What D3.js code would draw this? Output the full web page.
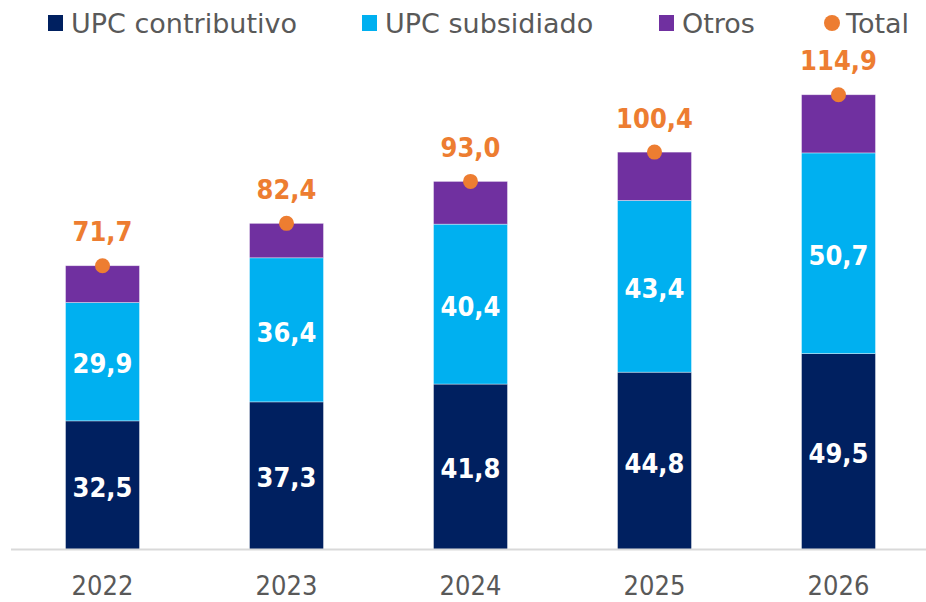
<!DOCTYPE html>
<html>
<head>
<meta charset="utf-8">
<script src="https://cdn.jsdelivr.net/npm/d3@7"></script>
<style>
  body { margin: 0; background: #fff; }
  svg { display: block; font-family: "DejaVu Sans", sans-serif; }
</style>
</head>
<body>
<svg class="chart"></svg>
<script>
const width = 926,
  height = 602;
const years = ['2022', '2023', '2024', '2025', '2026'];
const contributivo = [32.5, 37.3, 41.8, 44.8, 49.5];
const subsidiado = [29.9, 36.4, 40.4, 43.4, 50.7];
const otros = [9.3, 8.7, 10.8, 12.2, 14.7];
const total = [71.7, 82.4, 93.0, 100.4, 114.9];
const seriesNames = ['UPC contributivo', 'UPC subsidiado', 'Otros'];
const colors = ['#002060', '#00B0F0', '#7030A0'];
const totalColor = '#ED7D31';
const textColor = '#595959';
const condensed = '"DejaVu Sans Condensed", "DejaVu Sans", sans-serif';

const fmt = v => v.toFixed(1).replace('.', ',');

let chart = d3.select(".chart")
  .attr("width", width)
  .attr("height", height);

let x = d3.scaleBand()
  .domain(years)
  .range([10.5, 930.5])
  .paddingInner(0.598)
  .paddingOuter(0.299);

let y = d3.scaleLinear()
  .domain([0, 120])
  .range([549.5, 549.5 - 120 * 3.958]);

let rows = years.map((yr, i) => ({
  year: yr,
  'UPC contributivo': contributivo[i],
  'UPC subsidiado': subsidiado[i],
  'Otros': otros[i],
  total: total[i]
}));

let stack = d3.stack().keys(seriesNames)(rows);

// bars
let layer = chart.append("g").selectAll("g")
  .data(stack)
  .enter().append("g")
  .attr("fill", (d, i) => colors[i]);

layer.selectAll("rect")
  .data(d => d)
  .enter().append("rect")
  .attr("x", d => x(d.data.year))
  .attr("y", d => y(d[1]))
  .attr("width", x.bandwidth())
  .attr("height", d => y(d[0]) - y(d[1]))
  .attr("stroke", "#ffffff")
  .attr("stroke-opacity", 0.5)
  .attr("stroke-width", 0.75);

// labels inside first two series
stack.slice(0, 2).forEach(s => {
  chart.append("g").selectAll("text")
    .data(s)
    .enter().append("text")
    .attr("x", d => x(d.data.year) + x.bandwidth() / 2)
    .attr("y", d => (y(d[0]) + y(d[1])) / 2 + 2)
    .attr("dy", "0.36em")
    .attr("text-anchor", "middle")
    .attr("fill", "#fff")
    .attr("font-family", condensed)
    .attr("font-weight", "bold")
    .attr("font-size", 27)
    .text(d => fmt(d[1] - d[0]));
});

// x axis
let xAxis = d3.axisBottom(x).tickSize(0).tickPadding(26);
let gx = chart.append("g")
  .attr("transform", `translate(0, ${y(0)})`)
  .call(xAxis);
gx.select(".domain")
  .attr("d", "M11,0H926")
  .attr("stroke", "#D9D9D9")
  .attr("stroke-width", 2);
gx.selectAll("text")
  .attr("font-family", condensed)
  .attr("font-size", 27)
  .attr("fill", textColor);

// total points
chart.append("g").selectAll("circle")
  .data(rows)
  .enter().append("circle")
  .attr("cx", d => x(d.year) + x.bandwidth() / 2)
  .attr("cy", d => y(d.total))
  .attr("r", 7.5)
  .attr("fill", totalColor);

chart.append("g").selectAll("text")
  .data(rows)
  .enter().append("text")
  .attr("x", d => x(d.year) + x.bandwidth() / 2)
  .attr("y", d => y(d.total) - 34)
  .attr("dy", "0.36em")
  .attr("text-anchor", "middle")
  .attr("fill", totalColor)
  .attr("font-family", condensed)
  .attr("font-weight", "bold")
  .attr("font-size", 27)
  .text(d => fmt(d.total));

// legend
const legendX = [48, 362, 659];
let legend = chart.append("g");
seriesNames.forEach((n, i) => {
  legend.append("rect")
    .attr("x", legendX[i])
    .attr("y", 15)
    .attr("width", 15)
    .attr("height", 16)
    .attr("fill", colors[i]);
  legend.append("text")
    .attr("x", legendX[i] + 23)
    .attr("y", 23)
    .attr("dy", "0.36em")
    .attr("font-size", 27)
    .attr("fill", textColor)
    .text(n);
});
legend.append("circle")
  .attr("cx", 832)
  .attr("cy", 23)
  .attr("r", 8)
  .attr("fill", totalColor);
legend.append("text")
  .attr("x", 846)
  .attr("y", 23)
  .attr("dy", "0.36em")
  .attr("font-size", 27)
  .attr("fill", textColor)
  .text("Total");
</script>
</body>
</html>
